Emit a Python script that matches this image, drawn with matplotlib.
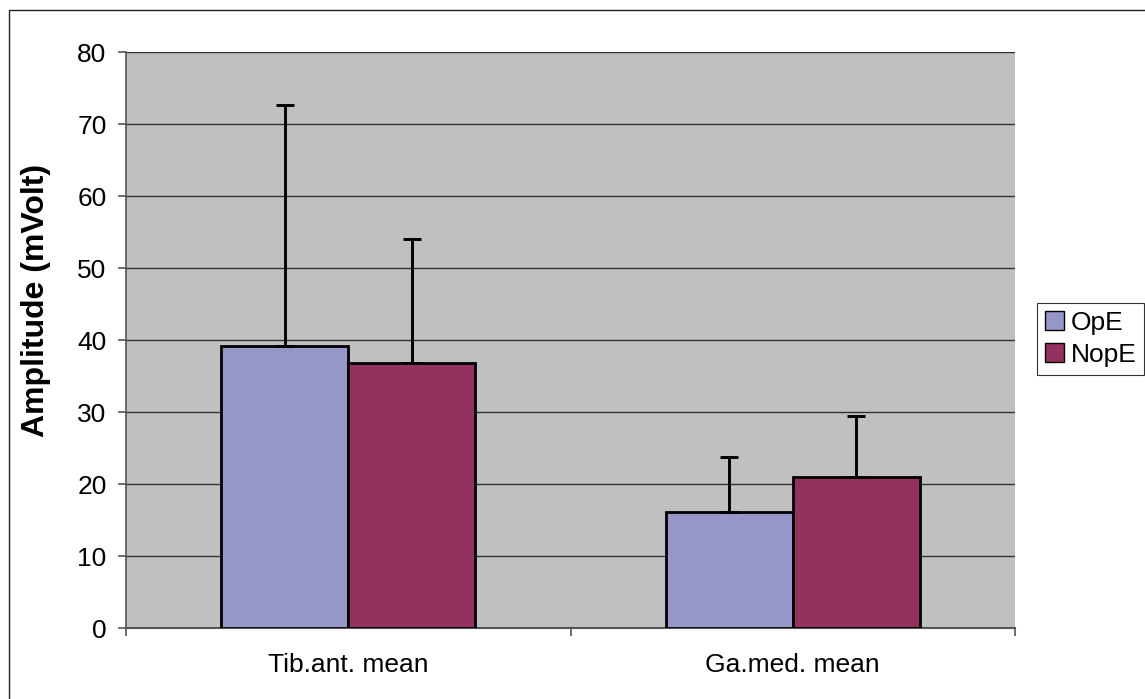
import numpy as np
import matplotlib
matplotlib.use("Agg")
import matplotlib.pyplot as plt
from matplotlib.patches import Rectangle, Patch

plt.rcParams["font.family"] = ["Liberation Sans", "DejaVu Sans"]

# data
categories = ["Tib.ant. mean", "Ga.med. mean"]
series_names = ["OpE", "NopE"]
ope_mean = [39.1, 16.1]
ope_sd = [33.5, 7.6]
nope_mean = [36.8, 21.0]
nope_sd = [17.2, 8.5]

colors = ["#9696C8", "#93315F"]

fig = plt.figure(figsize=(11.45, 6.99), dpi=100)
ax = fig.add_axes([126 / 1145, 1 - 628 / 699, 889 / 1145, 576 / 699])
ax.set_facecolor("#C0C0C0")

x = np.arange(len(categories))
w = 1 / 3.5
means = [ope_mean, nope_mean]
sds = [ope_sd, nope_sd]
for i in range(2):
    pos = x + (i - 0.5) * w
    ax.bar(pos, means[i], width=w, color=colors[i], edgecolor="black",
           linewidth=2.0, zorder=3, label=series_names[i])
    ax.errorbar(pos, means[i], yerr=[np.zeros(2), sds[i]], fmt="none",
                ecolor="black", elinewidth=2.1, capsize=6.8, capthick=2.1,
                zorder=4)

ax.set_xlim(-0.5, 1.5)
ax.set_ylim(0, 80)
ax.set_yticks(range(0, 81, 10))
ax.set_xticks([-0.5, 0.5, 1.5], minor=False)
ax.set_xticklabels([])
ax.set_xticks(x, minor=True)
ax.set_xticklabels(categories, minor=True)
ax.tick_params(axis="x", which="minor", length=0, pad=18, labelsize=19)
ax.tick_params(axis="x", which="major", length=6, width=1.2, color="#555555")
ax.tick_params(axis="y", length=6, width=1.2, color="#555555", pad=8, labelsize=19)

ax.yaxis.grid(True, color="#333333", linewidth=1.0, zorder=0)
ax.set_axisbelow(True)
for s in ["top", "right"]:
    ax.spines[s].set_visible(False)
ax.spines["left"].set_color("#555555")
ax.spines["bottom"].set_color("#555555")
ax.spines["left"].set_linewidth(1.2)
ax.spines["bottom"].set_linewidth(1.5)

ax.set_ylabel("Amplitude (mVolt)", fontsize=23, fontweight="bold")
ax.yaxis.set_label_coords((51 - 126) / 889, (628 - 300) / 576)

handles = [Patch(facecolor=colors[i], edgecolor="black", linewidth=1.0)
           for i in range(2)]
leg = fig.legend(handles, series_names, loc="upper left",
                 bbox_to_anchor=(1037 / 1145, 1 - 303 / 699), fontsize=19,
                 frameon=True, fancybox=False, handlelength=0.72,
                 handleheight=0.72, handletextpad=0.25, borderpad=0.3,
                 labelspacing=0.3, borderaxespad=0)
leg.get_frame().set_edgecolor("black")
leg.get_frame().set_linewidth(0.8)

# outer chart border (right and bottom edges fall outside the image)
fig.patches.append(Rectangle((9 / 1145, -0.1), 1.2, 1.1 - 10 / 699,
                             transform=fig.transFigure, fill=False,
                             edgecolor="#222222", linewidth=1.0))

fig.savefig("out.png", dpi=100)
